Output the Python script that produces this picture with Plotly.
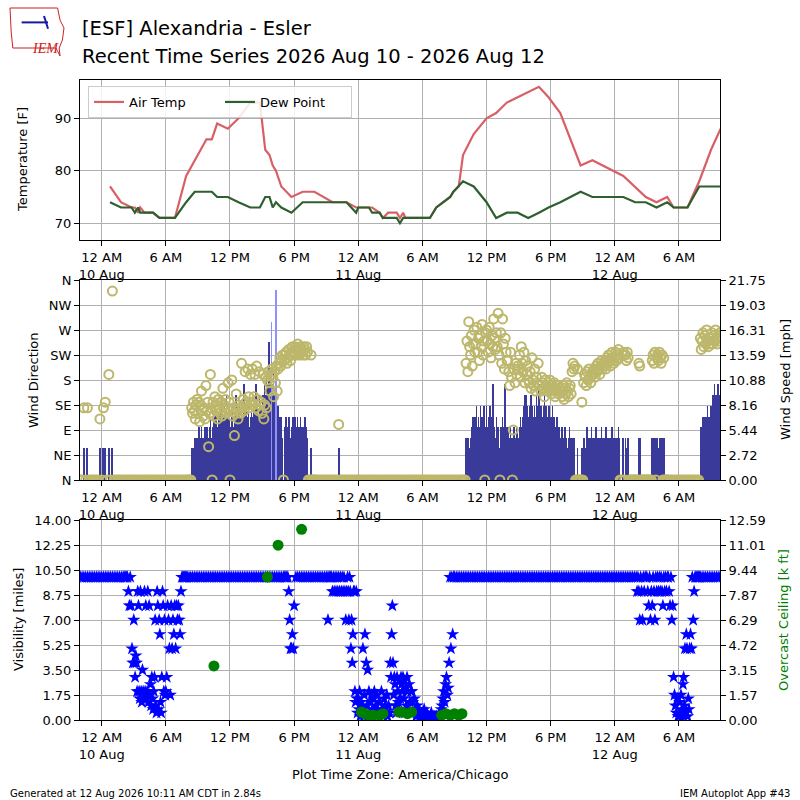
import pandas as pd
import plotly.graph_objects as go

START = pd.Timestamp("2026-08-10 00:00")

# temperature obs, hours after 10 Aug 00:00
temp_hours = [0.78, 1.8, 2.8, 3.1, 3.4, 3.6, 4.0, 4.8, 5.4, 6.85, 7.9, 8.7, 9.8, 10.3,
              10.8, 11.8, 12.8, 13.9, 14.8, 15.3, 15.7, 16.0, 16.3, 16.8, 17.75, 18.8,
              19.9, 21.6, 22.9, 23.8, 24.0, 25.0, 25.3, 26.0, 26.3, 26.8, 27.6, 27.9,
              28.2, 28.4, 30.0, 30.7, 31.3, 32.6, 32.9, 33.4, 33.8, 34.8, 36.0, 36.9,
              37.9, 38.9, 39.9, 40.9, 41.8, 42.9, 44.8, 45.9, 48.8, 49.9, 50.9, 51.9,
              52.9, 53.5, 54.8, 55.9, 57.0, 57.9]
air_temp = [77, 74, 73, 73, 72, 73, 72, 72, 71, 71, 79, 82, 86, 86,
            89, 88, 90, 93, 93, 84, 83, 81, 80, 77, 75, 76,
            76, 74, 74, 73, 73, 73, 73, 72, 71, 72, 72, 71,
            72, 71, 71, 71, 73, 75, 76, 77, 83, 87, 90, 91,
            93, 94, 95, 96, 94, 91, 81, 82, 79, 77, 75, 74,
            75, 73, 73, 78, 84, 88]
dew_point = [74, 73, 73, 72, 73, 72, 72, 72, 71, 71, 74, 76, 76, 76,
             75, 75, 74, 73, 73, 75, 75, 73, 74, 73, 72, 74,
             74, 74, 74, 72, 73, 73, 72, 72, 71, 71, 71, 70,
             71, 71, 71, 71, 73, 75, 76, 77, 78, 77, 74, 71,
             72, 72, 71, 72, 73, 74, 76, 75, 75, 74, 74, 73,
             74, 73, 73, 77, 77, 77]

# wind, one row per hour starting 9 Aug 22:00 (hour -2), values spread evenly in the hour
FIRST_HOUR = -2
wind_speed = [
    [0, 0, 3.5, 0, 3.5, 0],  # -2
    [0, 0, 0, 0, 0, 3.5],
    [0, 3.5, 3.5, 0, 3.5, 0],  # 0
    [3.5, 0, 0, 0, 0, 0],
    [0, 0, 0, 0, 0, 0],
    [0, 0, 0, 0, 0, 0],
    [0, 0, 0, 0, 0, 0],
    [0, 0, 0, 0, 0, 0],
    [0, 0, 0, 0, 0, 0],
    [0, 0, 0, 0, 0, 0],  # 7
    [0, 0, 0, 0, 0, 3.5, 3.5, 3.5, 4.6, 3.5, 4.6, 3.5],
    [4.6, 5.8, 4.6, 4.6, 5.8, 4.6, 3.5, 4.6, 5.8, 4.6, 5.8, 4.6],
    [4.6, 5.8, 6.9, 4.6, 0, 5.8, 6.9, 5.8, 8.1, 6.9, 5.8, 6.9],  # 10
    [6.9, 8.1, 5.8, 9.2, 6.9, 5.8, 8.1, 6.9, 9.2, 5.8, 6.9, 8.1],
    [0, 5.8, 6.9, 8.1, 5.8, 6.9, 5.8, 9.2, 6.9, 5.8, 8.1, 6.9],
    [5.8, 8.1, 6.9, 5.8, 10.4, 6.9, 8.1, 5.8, 6.9, 8.1, 5.8, 6.9],
    [8.1, 6.9, 5.8, 8.1, 6.9, 10.4, 5.8, 8.1, 6.9, 9.2, 6.9, 8.1],
    [6.9, 9.2, 8.1, 10.4, 9.2, 11.5, 10.4, 12.7, 15.0, 10.4, 11.5, 9.2],  # 15
    [10.4, 11.5, 9.2, 8.1, 6.9, 5.8, 8.1, 6.9, 5.8, 6.9, 5.8, 4.6],
    [0, 5.8, 5.8, 6.9, 5.8, 5.8, 6.9, 5.8, 4.6, 5.8, 5.8, 6.9],
    [5.8, 6.9, 5.8, 5.8, 6.9, 5.8, 5.8, 6.9, 5.8, 5.8, 4.6, 5.8],
    [6.9, 5.8, 5.8, 4.6, 0, 0, 0, 3.5, 0, 0, 0, 0],
    [0, 0, 0, 0, 0, 0],  # 20
    [0, 0, 0, 0, 0, 0],
    [0, 3.5, 0, 0, 0, 0],
    [0, 0, 0, 0, 0, 0],
    [0, 0, 0, 0, 0, 0],  # 24
    [0, 0, 0, 0, 0, 0],
    [0, 0, 0, 0, 0, 0],
    [0, 0, 0, 0, 0, 0],
    [0, 0, 0, 0, 0, 0],
    [0, 0, 0, 0, 0, 0],
    [0, 0, 0, 0, 0, 0],  # 30
    [0, 0, 0, 0, 0, 0],
    [0, 0, 0, 0, 0, 0],
    [0, 0, 0, 0, 0, 0],
    [0, 4.6, 3.5, 4.6, 4.6, 3.5, 4.6, 5.8, 6.9, 5.8, 6.9, 5.8],  # 34
    [6.9, 8.1, 5.8, 6.9, 5.8, 8.1, 6.9, 5.8, 6.9, 8.1, 0, 5.8],
    [8.1, 5.8, 6.9, 5.8, 8.1, 6.9, 5.8, 10.4, 6.9, 5.8, 4.6, 6.9],
    [4.6, 5.8, 3.5, 0, 5.8, 4.6, 6.9, 5.8, 4.6, 10.4, 5.8, 4.6],
    [5.8, 4.6, 3.5, 5.8, 4.6, 0, 4.6, 5.8, 3.5, 4.6, 5.8, 4.6],
    [4.6, 5.8, 6.9, 5.8, 4.6, 6.9, 8.1, 9.2, 6.9, 9.2, 8.1, 6.9],
    [8.1, 6.9, 9.2, 8.1, 5.8, 6.9, 8.1, 6.9, 9.2, 6.9, 8.1, 10.4],  # 40
    [6.9, 8.1, 6.9, 5.8, 8.1, 9.2, 6.9, 8.1, 5.8, 6.9, 8.1, 6.9],
    [5.8, 6.9, 8.1, 5.8, 6.9, 4.6, 5.8, 6.9, 5.8, 4.6, 5.8, 4.6],
    [4.6, 5.8, 4.6, 3.5, 5.8, 4.6, 4.6, 3.5, 4.6, 5.8, 4.6, 3.5],
    [4.6, 3.5, 4.6, 3.5, 0, 0, 3.5, 0, 0, 0, 0, 3.5],
    [0, 4.6, 4.6, 3.5, 4.6, 5.8, 4.6, 3.5, 4.6, 4.6, 5.8, 4.6],  # 45
    [4.6, 3.5, 4.6, 5.8, 4.6, 4.6, 3.5, 4.6, 4.6, 5.8, 4.6, 3.5],
    [4.6, 4.6, 5.8, 4.6, 3.5, 4.6, 4.6, 3.5, 4.6, 5.8, 4.6, 4.6],
    [4.6, 3.5, 4.6, 4.6, 5.8, 4.6, 0, 0, 0, 4.6, 4.6, 0],
    [4.6, 3.5, 4.6, 4.6, 0, 0, 0, 0, 0, 0, 0, 0],
    [0, 0, 0, 4.6, 4.6, 0, 0, 0, 0, 0, 0, 0],  # 50
    [0, 0, 0, 0, 0, 0, 4.6, 4.6, 3.5, 4.6, 0, 4.6],
    [4.6, 3.5, 4.6, 4.6, 3.5, 4.6, 0, 4.6, 0, 0, 0, 0],
    [0, 0, 0, 0, 0, 0],
    [0, 0, 0, 0, 0, 0],
    [0, 0, 0, 0, 0, 0],  # 55
    [4.6, 5.8, 4.6, 6.9, 5.8, 6.9, 5.8, 6.9, 8.1, 6.9, 5.8, 6.9],
    [8.1, 6.9, 9.2, 8.1, 10.4, 9.2, 8.1, 9.2, 10.4, 9.2, 8.1, 9.2],
]
wind_dir = [
    [0, 0, 130, 0, 130, 0],  # -2
    [0, 0, 0, 0, 0, 110],
    [0, 130, 140, 0, 190, 0],  # 0
    [340, 0, 0, 0, 0, 0],
    [0, 0, 0, 0, 0, 0],
    [0, 0, 0, 0, 0, 0],
    [0, 0, 0, 0, 0, 0],
    [0, 0, 0, 0, 0, 0],
    [0, 0, 0, 0, 0, 0],
    [0, 0, 0, 0, 0, 0],  # 7
    [0, 0, 0, 0, 0, 130, 120, 140, 125, 110, 135, 145],
    [120, 140, 105, 135, 160, 125, 115, 130, 110, 170, 125, 140],
    [60, 120, 190, 130, 0, 140, 115, 150, 125, 135, 110, 145],  # 10
    [130, 120, 140, 115, 165, 135, 125, 145, 120, 130, 175, 140],
    [0, 125, 180, 115, 130, 80, 120, 155, 125, 110, 135, 130],
    [120, 210, 130, 145, 125, 195, 140, 135, 200, 150, 130, 190],
    [140, 200, 135, 150, 190, 130, 205, 145, 125, 195, 135, 140],
    [120, 190, 110, 135, 185, 130, 180, 195, 175, 160, 190, 200],  # 15
    [185, 150, 195, 175, 205, 160, 200, 210, 220, 205, 215, 225],
    [0, 215, 225, 230, 210, 220, 235, 225, 215, 230, 240, 225],
    [230, 240, 225, 235, 245, 230, 225, 240, 235, 230, 225, 240],
    [235, 225, 240, 230, 0, 0, 0, 225, 0, 0, 0, 0],
    [0, 0, 0, 0, 0, 0],  # 20
    [0, 0, 0, 0, 0, 0],
    [0, 100, 0, 0, 0, 0],
    [0, 0, 0, 0, 0, 0],
    [0, 0, 0, 0, 0, 0],  # 24
    [0, 0, 0, 0, 0, 0],
    [0, 0, 0, 0, 0, 0],
    [0, 0, 0, 0, 0, 0],
    [0, 0, 0, 0, 0, 0],
    [0, 0, 0, 0, 0, 0],
    [0, 0, 0, 0, 0, 0],  # 30
    [0, 0, 0, 0, 0, 0],
    [0, 0, 0, 0, 0, 0],
    [0, 0, 0, 0, 0, 0],
    [0, 210, 250, 195, 285, 240, 225, 260, 205, 245, 270, 230],  # 34
    [245, 275, 230, 255, 215, 260, 240, 280, 225, 250, 0, 265],
    [270, 250, 230, 275, 245, 220, 260, 240, 290, 255, 235, 265],
    [240, 300, 225, 0, 265, 210, 290, 245, 200, 255, 230, 215],
    [215, 195, 170, 230, 185, 0, 90, 200, 175, 210, 190, 205],
    [200, 225, 185, 240, 210, 195, 230, 175, 215, 190, 205, 180],
    [175, 195, 165, 220, 180, 170, 200, 160, 185, 175, 210, 170],  # 40
    [170, 160, 185, 175, 165, 150, 180, 170, 160, 175, 165, 180],
    [165, 155, 170, 160, 175, 150, 165, 160, 170, 155, 165, 160],
    [160, 150, 170, 145, 165, 155, 175, 160, 150, 165, 170, 155],
    [195, 210, 200, 205, 0, 0, 200, 0, 0, 0, 0, 140],
    [0, 175, 190, 185, 170, 195, 180, 200, 185, 175, 190, 195],  # 45
    [190, 200, 185, 205, 195, 210, 200, 190, 205, 215, 200, 210],
    [205, 215, 200, 220, 210, 225, 215, 205, 220, 230, 215, 210],
    [220, 230, 215, 225, 235, 220, 0, 0, 0, 225, 230, 0],
    [225, 215, 230, 220, 0, 0, 0, 0, 0, 0, 0, 0],
    [0, 0, 0, 210, 205, 0, 0, 0, 0, 0, 0, 0],  # 50
    [0, 0, 0, 0, 0, 0, 215, 225, 210, 230, 0, 220],
    [225, 215, 230, 220, 210, 225, 0, 220, 0, 0, 0, 0],
    [0, 0, 0, 0, 0, 0],
    [0, 0, 0, 0, 0, 0],
    [0, 0, 0, 0, 0, 0],  # 55
    [255, 235, 250, 265, 240, 260, 245, 270, 250, 240, 255, 245],
    [255, 265, 245, 260, 250, 270, 255, 245, 260, 250, 265, 255],
]
gust_hours = [15.9, 16.3]
gust_speed = [17.2, 20.7]

# visibility [miles], same hourly rows
visibility = [
    [10, 10, 10, 10, 10, 10],  # -2
    [10, 10, 10, 10, 10, 10],
    [10, 10, 10, 10, 10, 10],  # 0
    [10, 10, 10, 10, 10, 10],
    [10, 10, 10, 10, 10, 10, 9, 8, 10, 8, 5, 4],
    [7, 4, 3, 4.5, 4, 2, 9, 8, 2, 1.5, 9, 2, 1.25, 3.5, 2, 1.5],
    [9, 2, 8, 1.5, 2, 9, 1.25, 8, 1.75, 2.5, 1, 3, 1.5, 0.75, 2, 3],
    [7, 1, 0.5, 9, 8, 0.75, 7, 6, 1.25, 0.5, 3, 9, 8, 2, 7, 1.75],  # 5
    [2, 3, 8, 7, 5, 1.75, 8, 5, 7, 6, 8, 5],
    [8, 7, 8, 7, 6, 9, 10, 10, 10, 10, 10, 10],
    [10, 10, 10, 10, 10, 10],
    [10, 10, 10, 10, 10, 10],
    [10, 10, 10, 10, 10, 10],  # 10
    [10, 10, 10, 10, 10, 10],
    [10, 10, 10, 10, 10, 10],
    [10, 10, 10, 10, 10, 10],
    [10, 10, 10, 10, 10, 10],
    [10, 10, 10, 10, 10, 10],  # 15
    [10, 10, 10, 10, 10, 10],
    [10, 10, 10, 10, 10, 10, 9, 7, 5, 5, 6, 5],
    [8, 10, 10, 10, 10, 10],
    [10, 10, 10, 10, 10, 10],
    [10, 10, 10, 10, 10, 10],  # 20
    [10, 10, 7, 10, 10, 10, 10, 9, 10, 9, 10, 9],
    [10, 9, 10, 9, 10, 9, 10, 9, 10, 9, 7, 9],
    [10, 9, 7, 10, 9, 5, 7, 4, 6, 9, 9, 2, 1.25, 9, 1.5, 0.5],
    [1.5, 0.75, 2, 0.25, 1.25, 0.5, 1, 5, 0.25, 1.75, 6, 0.5, 4, 1, 3.5, 0.25],  # 24
    [2, 0.5, 1.25, 0.25, 1.75, 0.75, 0.1, 1.5, 2, 0.5, 1, 0.25, 1.75, 0.75, 0.5, 1.25],
    [1.25, 0.5, 2, 0.75, 0.25, 1.5, 1, 0.5, 1.75, 0.25, 1, 0.5],
    [4, 3, 6, 8, 4, 1.75, 3, 2.5, 1, 0.5, 3, 2, 1.25, 0.75, 2.75, 1.5],
    [3, 2.5, 2, 3, 1.5, 2.75, 0.5, 2.25, 1, 3, 2, 0.75, 2.5, 1.25, 0.5, 2],
    [2, 1.25, 0.5, 1.5, 0.75, 0.25, 1, 0.5, 0.75, 0.25, 0.5, 0.25],
    [0.5, 0.25, 0.75, 0.1, 0.25, 0.5, 0.1, 0.25, 0.1, 0.25, 0.5, 0.1],  # 30
    [0.25, 0.1, 0.25, 0.1, 0.25, 0.1, 0.25, 0.5, 0.25, 0.75, 1, 1.5],
    [2, 1.25, 2.5, 3, 1.75, 2.25, 4, 10, 5, 10, 6, 10],
    [10, 10, 10, 10, 10, 10],
    [10, 10, 10, 10, 10, 10],
    [10, 10, 10, 10, 10, 10],  # 35
    [10, 10, 10, 10, 10, 10],
    [10, 10, 10, 10, 10, 10],
    [10, 10, 10, 10, 10, 10],
    [10, 10, 10, 10, 10, 10],
    [10, 10, 10, 10, 10, 10],  # 40
    [10, 10, 10, 10, 10, 10],
    [10, 10, 10, 10, 10, 10],
    [10, 10, 10, 10, 10, 10],
    [10, 10, 10, 10, 10, 10],
    [10, 10, 10, 10, 10, 10],  # 45
    [10, 10, 10, 10, 10, 10],
    [10, 10, 10, 10, 10, 10],
    [10, 10, 10, 10, 10, 10],
    [10, 10, 10, 10, 10, 10],
    [10, 9, 10, 9, 7, 10, 9, 7, 10, 9, 10, 10],  # 50
    [10, 9, 8, 10, 7, 9, 8, 10, 9, 7, 10, 9],
    [10, 9, 10, 9, 10, 9, 8, 10, 9, 10, 9, 10],
    [10, 9, 8, 10, 7, 8, 3, 1.75, 1, 0.5, 1.5, 0.25],
    [0.25, 1.25, 0.5, 1.75, 0.1, 0.75, 2.5, 3, 1, 5, 0.5, 6, 5, 0.25, 1.5, 0.75],
    [5, 6, 5, 10, 7, 9, 10, 10, 10, 10, 10, 10],  # 55
    [10, 10, 10, 10, 10, 10],
    [10, 10, 10, 10, 10, 10],
]

# overcast ceiling [k ft]
ceiling_hours = [10.5, 15.5, 16.5, 18.7, 24.3, 24.6, 25.0, 25.4, 26.0, 26.3,
                 27.8, 28.1, 28.6, 29.0, 31.8, 32.2, 32.6, 33.0, 33.4, 33.7]
ceiling_kft = [3.4, 9.0, 11.0, 12.0, 0.5, 0.4, 0.3, 0.3, 0.3, 0.4,
               0.5, 0.5, 0.4, 0.5, 0.3, 0.4, 0.3, 0.4, 0.3, 0.4]

tick_text = ["12 AM<br>10 Aug", "6 AM", "12 PM", "6 PM", "12 AM<br>11 Aug",
             "6 AM", "12 PM", "6 PM", "12 AM<br>12 Aug", "6 AM"]
dir_labels = ["N", "NE", "E", "SE", "S", "SW", "W", "NW", "N"]
speed_ticks = ["0.00", "2.72", "5.44", "8.16", "10.88", "13.59", "16.31", "19.03", "21.75"]
ceil_ticks = ["0.00", "1.57", "3.15", "4.72", "6.29", "7.87", "9.44", "11.01", "12.59"]

SPEED_MAX = 21.75
CEIL_MAX = 12.588


def to_time(hours):
    return [START + pd.Timedelta(hours=h) for h in hours]


def expand(rows):
    """flatten hourly rows into (time, value, step in hours)"""
    hrs, vals, steps = [], [], []
    for i, row in enumerate(rows):
        for j, v in enumerate(row):
            hrs.append(FIRST_HOUR + i + j / len(row))
            vals.append(v)
            steps.append(1.0 / len(row))
    return to_time(hrs), vals, steps


spd_t, spd_v, spd_step = expand(wind_speed)
dir_t, dir_v, _ = expand(wind_dir)
vis_t, vis_v, _ = expand(visibility)

FONT = "DejaVu Sans"
GRID = "#b0b0b0"

fig = go.Figure()
fig.add_trace(go.Scatter(x=to_time(temp_hours), y=air_temp, mode="lines", name="Air Temp",
                         line=dict(color="#d95f66", width=2.2), xaxis="x", yaxis="y"))
fig.add_trace(go.Scatter(x=to_time(temp_hours), y=dew_point, mode="lines", name="Dew Point",
                         line=dict(color="#2e5f2e", width=2.2), xaxis="x", yaxis="y"))

fig.add_trace(go.Bar(x=spd_t, y=spd_v, width=[s * 0.6 * 3600000 for s in spd_step],
                     marker=dict(color="#3a3a9a", line=dict(width=0)),
                     showlegend=False, xaxis="x2", yaxis="y2"))
fig.add_trace(go.Bar(x=to_time(gust_hours), y=gust_speed, width=[150000] * len(gust_hours),
                     marker=dict(color="#9090ff", line=dict(width=0)),
                     showlegend=False, xaxis="x2", yaxis="y2"))
fig.add_trace(go.Scatter(x=dir_t, y=dir_v, mode="markers", showlegend=False,
                         marker=dict(symbol="circle-open", size=9, color="#bdb76b",
                                     line=dict(width=2, color="#bdb76b")),
                         xaxis="x2", yaxis="y3"))

fig.add_trace(go.Scatter(x=vis_t, y=vis_v, mode="markers", showlegend=False,
                         marker=dict(symbol="star", size=10, color="#0000ff", line=dict(width=0)),
                         xaxis="x3", yaxis="y4"))
fig.add_trace(go.Scatter(x=to_time(ceiling_hours), y=ceiling_kft, mode="markers", showlegend=False,
                         marker=dict(symbol="circle", size=11, color="#008000", line=dict(width=0)),
                         xaxis="x3", yaxis="y5"))

x_range = [START + pd.Timedelta(hours=-2.03), START + pd.Timedelta(hours=57.84)]
tick_times = [START + pd.Timedelta(hours=h) for h in range(0, 55, 6)]


def xaxis(anchor):
    return dict(type="date", range=x_range, tickvals=tick_times, ticktext=tick_text,
                domain=[0.1, 0.9], anchor=anchor, showgrid=True, gridcolor=GRID, gridwidth=1,
                showline=True, linecolor="black", linewidth=1, mirror=True, zeroline=False,
                ticks="outside", ticklen=5, tickcolor="black", automargin=False,
                tickfont=dict(family=FONT, size=13, color="black"))


def yaxis(**kw):
    d = dict(showline=True, linecolor="black", linewidth=1, zeroline=False,
             ticks="outside", ticklen=5, tickcolor="black", automargin=False,
             tickfont=dict(family=FONT, size=13, color="black"))
    d.update(kw)
    return d


fig.update_layout(
    width=800, height=800, margin=dict(l=0, r=0, t=0, b=0, autoexpand=False),
    paper_bgcolor="white", plot_bgcolor="white", barmode="overlay", bargap=0,
    font=dict(family=FONT, size=13, color="black"),
    xaxis=xaxis("y"), xaxis2=xaxis("y2"), xaxis3=xaxis("y4"),
    yaxis=yaxis(domain=[0.7, 0.9], anchor="x", range=[66.8, 97.3], tickvals=[70, 80, 90],
                mirror=True, showgrid=True, gridcolor=GRID),
    yaxis2=yaxis(domain=[0.4, 0.65], anchor="x2", side="right", range=[0, SPEED_MAX],
                 tickvals=[SPEED_MAX * i / 8 for i in range(9)], ticktext=speed_ticks, showgrid=False),
    yaxis3=yaxis(overlaying="y2", anchor="x2", side="left", range=[0, 360],
                 tickvals=list(range(0, 361, 45)), ticktext=dir_labels, showgrid=True, gridcolor=GRID),
    yaxis4=yaxis(domain=[0.1, 0.35], anchor="x3", range=[0, 14], tickvals=[1.75 * i for i in range(9)],
                 tickformat=".2f", showgrid=True, gridcolor=GRID),
    yaxis5=yaxis(overlaying="y4", anchor="x3", side="right", range=[0, CEIL_MAX],
                 tickvals=[CEIL_MAX * i / 8 for i in range(9)], ticktext=ceil_ticks, showgrid=False),
    legend=dict(orientation="h", x=0.11, y=0.8925, xanchor="left", yanchor="top",
                bgcolor="rgba(255,255,255,0.85)", bordercolor="#cccccc", borderwidth=1,
                font=dict(family=FONT, size=13), entrywidth=86, entrywidthmode="pixels"),
)


def note(text, px, py, size=13, color="black", xanchor="center", angle=0):
    fig.add_annotation(text=text, x=px / 800, y=1 - py / 800, xref="paper", yref="paper",
                       xanchor=xanchor, yanchor="middle", textangle=angle, showarrow=False,
                       font=dict(family=FONT, size=size, color=color))


note("[ESF] Alexandria - Esler", 80, 28, size=19.5, xanchor="left")
note("Recent Time Series 2026 Aug 10 - 2026 Aug 12", 80, 56, size=19.5, xanchor="left")

note("Temperature [F]", 23, 160, angle=-90)
note("Wind Direction", 33, 380, angle=-90)
note("Wind Speed [mph]", 785, 380, angle=-90)
note("Visibility [miles]", 18, 620, angle=-90)
note("Overcast Ceiling [k ft]", 783, 620, color="green", angle=-90)

note("Plot Time Zone: America/Chicago", 400, 774)
note("Generated at 12 Aug 2026 10:11 AM CDT in 2.84s", 8, 793, size=10, xanchor="left")
note("IEM Autoplot App #43", 792, 793, size=10, xanchor="right")

# IEM logo: state outline, vane and text
fig.add_shape(type="path", xref="paper", yref="paper",
              path="M 0.0125 0.99 L 0.072 0.99 L 0.075 0.975 L 0.08 0.965 L 0.078 0.95 "
                   "L 0.074 0.94 L 0.075 0.93 L 0.07 0.94 L 0.016 0.94 L 0.014 0.96 Z",
              line=dict(color="#cc2222", width=1))
fig.add_shape(type="line", xref="paper", yref="paper", x0=0.027, y0=0.972, x1=0.06, y1=0.972,
              line=dict(color="#1a1aa0", width=2))
fig.add_shape(type="line", xref="paper", yref="paper", x0=0.055, y0=0.98, x1=0.06, y1=0.964,
              line=dict(color="#1a1aa0", width=2))
fig.add_annotation(text="<i>IEM</i>", x=0.037, y=0.951, xref="paper", yref="paper", showarrow=False,
                   font=dict(family="Liberation Serif", size=14, color="#cc2222"))

fig.write_html("out.html", config={"displayModeBar": False},
               post_script="document.body.style.margin='0';")
